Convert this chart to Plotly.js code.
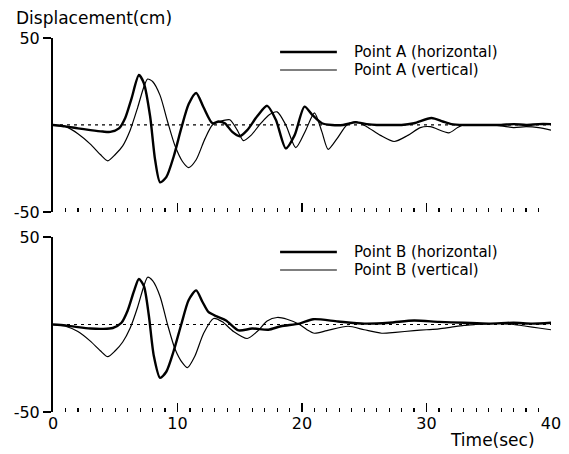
<!DOCTYPE html>
<html>
<head>
<meta charset="utf-8">
<script src="https://cdn.plot.ly/plotly-3.0.1.min.js"></script>
<style>html,body{margin:0;padding:0;background:#fff;}#chart{width:569px;height:454px;}</style>
</head>
<body>
<div id="chart"></div>
<script>
// ---- Data ----
const seriesNames = ["Point A (horizontal)", "Point A (vertical)", "Point B (horizontal)", "Point B (vertical)"];

const tAH = [0,1,2,3,4,4.6,5.3,5.8,6.3,6.9,7.3,7.8,8.2,8.6,9.1,9.7,10.3,10.9,11.5,12.1,12.8,13.3,13.8,14.4,15.0,15.6,16.4,17.2,17.9,18.7,19.4,20.2,20.8,21.6,22.4,23.3,24.3,25.2,26,27,28,29,30.4,31.3,32,33,34,35,36,37,38,39,40];
const yAH = [0,-0.8,-2,-3,-3.8,-4,-2,4,15,28.7,24,5,-20,-33,-30,-18,-2,12,18.4,10,1,2,1,-4,-6.5,-3,5,11,3,-13.5,-6,10.5,6,1,0,0,1.5,0.5,0,0,0,1,4,2,0.5,0,0,0,0,0.5,0,0.5,0.5];

const tAV = [0,1,2,3,3.8,4.4,5,5.6,6.2,6.8,7.3,7.6,8,8.6,9.2,9.8,10.4,10.9,11.5,12.2,12.8,13.4,14.2,14.8,15.3,15.9,16.7,17.4,18,18.7,19.5,20.3,21,21.6,22.1,22.8,23.6,24.3,25.2,26.3,27.4,28.5,29.5,30.3,31.8,32.5,33,34,35,36,37,38,39,40];
const yAV = [0,-1,-5,-11,-17,-20.6,-17,-12,-3,10,22,26.4,25,17,2,-12,-21,-24.5,-20,-8,0,2,3,-3,-9,-6,1,6,7.5,0,-13,-3,7,-4,-14,-8,0,2,-1,-6,-9.5,-6,-1.5,-1,-4.5,-1.5,0,0,0,-0.5,-1.5,-1,-1.5,-3];

const tBH = [0,1,2,3,4,4.8,5.5,6,6.5,6.9,7.3,7.7,8.1,8.6,9.1,9.7,10.3,10.9,11.5,12,12.5,13.2,13.9,14.9,16,17.3,18.3,19.8,20.9,22.9,25,27,29,31,33,35,37,38.5,40];
const yBH = [0,-0.5,-1.5,-2.3,-2.5,-2,1,8,19,26,22,5,-18,-30.5,-27,-15,0,14,19.5,13,7,4.5,2.3,-3.4,-2.3,-3,-1,0.5,3,1.7,0.5,1,2.3,1.5,1,0.5,1,0.5,1];

const tBV = [0,1,2,3,3.8,4.4,5,5.6,6.2,6.8,7.3,7.6,8,8.6,9.2,9.8,10.4,10.8,11.4,12.1,12.9,13.6,14.5,15.6,16.4,17.2,18,18.8,19.8,20.4,21,22,23.7,25,26.4,27.5,29,30,31,32,33,33.9,35,36,37,38,39,40];
const yBV = [0,-1,-4,-9.5,-15,-18.4,-15,-10,-2,10,22,27,25,16,0,-14,-22,-24.7,-18,-5,3.4,1.5,-4,-8,-4,2,4,3,0,-3,-5,-3.5,-1,-3,-5,-4.5,-3.5,-3,-2.5,-1.5,-0.5,0,0.5,0.5,0,-1,-2,-3];

const yTickVals = [-50, 50];
const yTickText = ["-50", "50"];
const zeroTick = [0];
const xMajor = 10, xMinor = 1;

// ---- Chart ----
const FONT = "'DejaVu Sans', Arial, sans-serif";
const thick = {color: "#000", width: 2.4, shape: "spline", smoothing: 0.7};
const thin  = {color: "#000", width: 1.2, shape: "spline", smoothing: 0.7};

const traces = [
  {x: tAH, y: yAH, name: seriesNames[0], mode: "lines", line: thick, xaxis: "x", yaxis: "y", showlegend: false},
  {x: tAV, y: yAV, name: seriesNames[1], mode: "lines", line: thin,  xaxis: "x", yaxis: "y", showlegend: false},
  {x: tBH, y: yBH, name: seriesNames[2], mode: "lines", line: thick, xaxis: "x2", yaxis: "y2", showlegend: false},
  {x: tBV, y: yBV, name: seriesNames[3], mode: "lines", line: thin,  xaxis: "x2", yaxis: "y2", showlegend: false}
];

function xax(anchor, labels) {
  return {
    anchor: anchor, domain: [0, 1], range: [0, 40], showgrid: false, zeroline: false, showline: false,
    tickmode: "linear", tick0: 0, dtick: xMajor, ticks: "inside", ticklen: 9, tickwidth: 1.3, tickcolor: "#000",
    minor: {tickmode: "linear", tick0: 0, dtick: xMinor, ticks: "inside", ticklen: 4, tickwidth: 1.2, tickcolor: "#000", showgrid: false},
    showticklabels: labels, tickfont: {family: FONT, size: 16, color: "#000"}
  };
}
function yax(anchor, dom) {
  return {
    anchor: anchor, domain: dom, range: [-50, 50], showgrid: false, zeroline: false,
    showline: true, linewidth: 2, linecolor: "#000",
    tickmode: "array", tickvals: yTickVals, ticktext: yTickText, ticks: "outside", ticklen: 8, tickwidth: 1.5, tickcolor: "#000",
    tickfont: {family: FONT, size: 16, color: "#000"}
  };
}
function yzero(over, anchor, dom) {
  return {
    overlaying: over, anchor: anchor, side: "left", domain: dom, range: [-50, 50], showgrid: false, zeroline: false,
    showline: false, tickmode: "array", tickvals: zeroTick, ticks: "outside", ticklen: 14, tickcolor: "rgba(0,0,0,0)",
    tickfont: {family: FONT, size: 16, color: "#000"}
  };
}

const topDom = [0.535, 1], botDom = [0, 0.468];

function legendItem(px0, px1, ty, width, text) {
  return {shape: {type: "line", xref: "paper", yref: "paper", x0: px0, x1: px1, y0: ty, y1: ty, line: {color: "#000", width: width}},
          ann: {xref: "paper", yref: "paper", x: 0.600, y: ty, xanchor: "left", yanchor: "middle", showarrow: false, text: text,
                font: {family: FONT, size: 15, color: "#000"}}};
}
const leg = [
  legendItem(0.456, 0.570, 0.9626, 2.4, seriesNames[0]),
  legendItem(0.456, 0.570, 0.9144, 1.0, seriesNames[1]),
  legendItem(0.456, 0.570, 0.4278, 2.4, seriesNames[2]),
  legendItem(0.456, 0.570, 0.3797, 1.2, seriesNames[3])
];

const shapes = [
  {type: "line", xref: "x", yref: "y", x0: 0, x1: 40, y0: 0, y1: 0, line: {color: "#000", width: 1.2, dash: "3px,4px"}},
  {type: "line", xref: "x2", yref: "y2", x0: 0, x1: 40, y0: 0, y1: 0, line: {color: "#000", width: 1.2, dash: "3px,4px"}}
].concat(leg.map(l => l.shape));

const annotations = [
  {xref: "paper", yref: "paper", x: -0.078, y: 1.053, xanchor: "left", yanchor: "middle", showarrow: false,
   text: "Displacement(cm)", font: {family: FONT, size: 17, color: "#000"}},
  {xref: "paper", yref: "paper", x: 0.972, y: -0.075, xanchor: "right", yanchor: "middle", showarrow: false,
   text: "Time(sec)", font: {family: FONT, size: 17, color: "#000"}}
].concat(leg.map(l => l.ann));

const layout = {
  width: 569, height: 454,
  margin: {l: 53, r: 18, t: 38, b: 42, pad: 0},
  paper_bgcolor: "#fff", plot_bgcolor: "#fff",
  showlegend: false,
  xaxis: xax("y", false),
  yaxis: yax("x", topDom),
  xaxis2: xax("y2", true),
  yaxis2: yax("x2", botDom),
  yaxis3: yzero("y", "x", topDom),
  yaxis4: yzero("y2", "x2", botDom),
  shapes: shapes,
  annotations: annotations
};

Plotly.newPlot("chart", traces, layout, {staticPlot: true, displayModeBar: false});
</script>
</body>
</html>
